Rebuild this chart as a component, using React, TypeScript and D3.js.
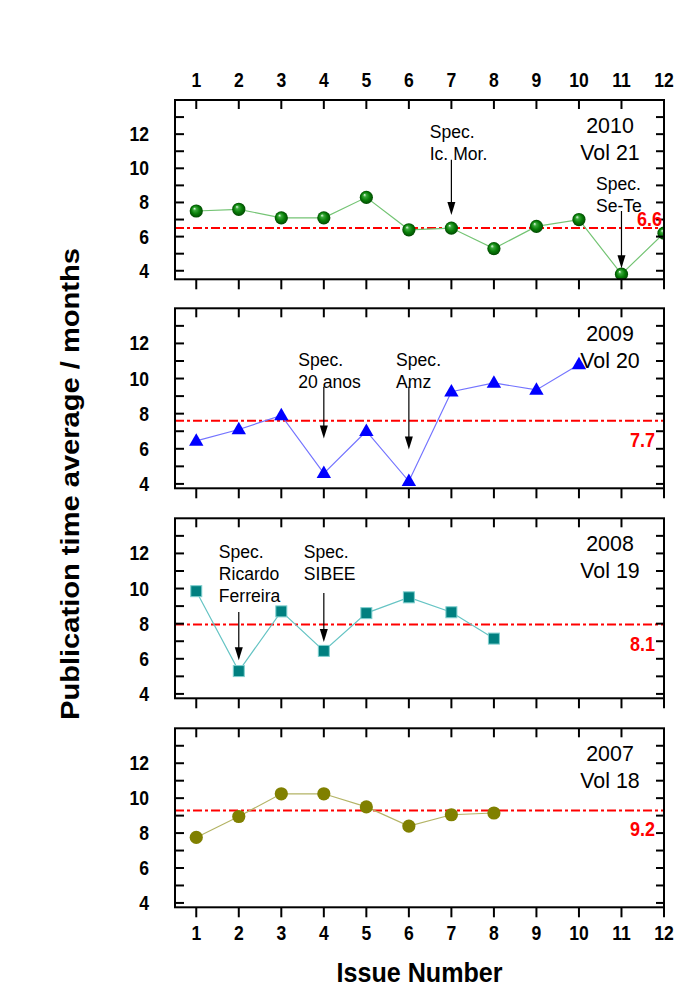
import React from "react";
import * as d3 from "d3";

// ---- data ----
const issues = [1, 2, 3, 4, 5, 6, 7, 8, 9, 10, 11, 12];
const vol21_2010 = [7.5, 7.6, 7.1, 7.1, 8.3, 6.4, 6.5, 5.3, 6.6, 7.0, 3.8, 6.2];
const vol20_2009 = [6.45, 7.1, 7.9, 4.6, 7.0, 4.15, 9.25, 9.75, 9.35, 10.8];
const vol19_2008 = [9.85, 5.3, 8.7, 6.45, 8.6, 9.5, 8.65, 7.15];
const vol18_2007 = [7.75, 8.95, 10.25, 10.25, 9.5, 8.4, 9.05, 9.15];
const meanLineValues = [6.5, 7.6, 7.95, 9.3];
const meanLabels = ["6.6", "7.7", "8.1", "9.2"];
const yearLabels = ["2010", "2009", "2008", "2007"];
const volLabels = ["Vol 21", "Vol 20", "Vol 19", "Vol 18"];
const yTickLabels = [4, 6, 8, 10, 12];
const yMinorTicks = [4, 5, 6, 7, 8, 9, 10, 11, 12, 13];

const ann2010 = [
  { issue: 7, lines: ["Spec.", "Ic. Mor."], textX: 6.49, textY: 12.13, from: 10.5, to: 7.26 },
  { issue: 11, lines: ["Spec.", "Se-Te"], textX: 10.4, textY: 9.11, from: 7.5, to: 4.14 },
];
const ann2009 = [
  { issue: 4, lines: ["Spec.", "20 anos"], textX: 3.4, textY: 11.09, from: 9.53, to: 6.59 },
  { issue: 6, lines: ["Spec.", "Amz"], textX: 5.7, textY: 11.09, from: 9.53, to: 5.96 },
];
const ann2008 = [
  { issue: 2, lines: ["Spec.", "Ricardo", "Ferreira"], textX: 1.53, textY: 12.09, from: 8.67, to: 5.92 },
  { issue: 4, lines: ["Spec.", "SIBEE"], textX: 3.53, textY: 12.09, from: 9.75, to: 6.96 },
];
const ann2007: typeof ann2010 = [];

const FONT = "'Liberation Sans', Arial, sans-serif";
const LEFT = 175;
const RIGHT = 664;

const panels = [
  { values: vol21_2010, ann: ann2010, top: 100, bottom: 279.3, domain: [3.5, 14], kind: "sphere", line: "#74c474" },
  { values: vol20_2009, ann: ann2009, top: 308.3, bottom: 488.3, domain: [3.75, 14], kind: "triangle", line: "#7474ff" },
  { values: vol19_2008, ann: ann2008, top: 518.3, bottom: 698.3, domain: [3.75, 14], kind: "square", line: "#66c4c4" },
  { values: vol18_2007, ann: ann2007, top: 728.3, bottom: 907.3, domain: [3.75, 14], kind: "circle", line: "#b4b466" },
];

const x = d3.scaleLinear().domain([0.5, 12]).range([LEFT, RIGHT]);

// condensed text helper (the original figure is slightly stretched vertically)
function T({ x: tx, y: ty, sx = 0.9, anchor = "start", size, bold = false, fill = "#000", children }: any) {
  return (
    <text
      transform={`translate(${tx},${ty}) scale(${sx},1)`}
      textAnchor={anchor}
      fontFamily={FONT}
      fontWeight={bold ? "bold" : "normal"}
      fontSize={size}
      fill={fill}
    >
      {children}
    </text>
  );
}

function Marker({ kind, cx, cy }: { kind: string; cx: number; cy: number }) {
  if (kind === "sphere") {
    return <circle cx={cx} cy={cy} r={6.6} fill="url(#sphereGrad)" />;
  }
  if (kind === "triangle") {
    const h = 12.5;
    const w = 7.2;
    const p = `M${cx},${cy - h * 0.62} L${cx + w},${cy + h * 0.38} L${cx - w},${cy + h * 0.38} Z`;
    return <path d={p} fill="#0000ff" />;
  }
  if (kind === "square") {
    const s = 11;
    return <rect x={cx - s / 2} y={cy - s / 2} width={s} height={s} fill="#008080" stroke="#7fcfcf" strokeWidth={1} />;
  }
  return <circle cx={cx} cy={cy} r={6.6} fill="#808000" />;
}

function Panel({ p, i }: { p: any; i: number }) {
  const y = d3.scaleLinear().domain(p.domain).range([p.bottom, p.top]);
  const pts = p.values.map((v: number, k: number) => [x(issues[k]), y(v)] as [number, number]);
  const lineGen = d3.line();
  const clipId = `clip${i}`;
  const meanY = y(meanLineValues[i]);
  const isFirst = i === 0;
  const isLast = i === panels.length - 1;
  return (
    <g>
      <defs>
        <clipPath id={clipId}>
          <rect x={LEFT} y={p.top} width={RIGHT - LEFT} height={p.bottom - p.top} />
        </clipPath>
      </defs>
      <line x1={LEFT} x2={RIGHT} y1={meanY} y2={meanY} stroke="#ff0000" strokeWidth={2} strokeDasharray="9,3,3,3" />
      <g clipPath={`url(#${clipId})`}>
        <path d={lineGen(pts) || ""} fill="none" stroke={p.line} strokeWidth={1.2} />
        {pts.map((pt: [number, number], k: number) => (
          <Marker key={k} kind={p.kind} cx={pt[0]} cy={pt[1]} />
        ))}
      </g>
      <rect x={LEFT} y={p.top} width={RIGHT - LEFT} height={p.bottom - p.top} fill="none" stroke="#000" strokeWidth={2} />
      {issues.map((t) => (
        <g key={"xt" + t}>
          <line x1={x(t)} x2={x(t)} y1={p.top} y2={p.top + 9} stroke="#000" strokeWidth={2} />
          <line x1={x(t)} x2={x(t)} y1={p.bottom} y2={p.bottom + 10} stroke="#000" strokeWidth={2} />
        </g>
      ))}
      {yMinorTicks.map((t) => (
        <g key={"yt" + t}>
          <line x1={LEFT} x2={LEFT + 9} y1={y(t)} y2={y(t)} stroke="#000" strokeWidth={2} />
          <line x1={RIGHT - 8} x2={RIGHT} y1={y(t)} y2={y(t)} stroke="#000" strokeWidth={2} />
        </g>
      ))}
      {yTickLabels.map((t) => (
        <T key={"yl" + t} x={149} y={y(t) + 7} anchor="end" size={19.5} bold>
          {t}
        </T>
      ))}
      {isFirst &&
        issues.map((t) => (
          <T key={"xlt" + t} x={x(t)} y={87} anchor="middle" size={19.5} bold>
            {t}
          </T>
        ))}
      {isLast &&
        issues.map((t) => (
          <T key={"xlb" + t} x={x(t)} y={940} anchor="middle" size={19.5} bold>
            {t}
          </T>
        ))}
      <T x={610} y={p.top + 25 + 8} anchor="middle" size={23} sx={0.93}>
        {yearLabels[i]}
      </T>
      <T x={610} y={p.top + 52 + 8} anchor="middle" size={23} sx={0.93}>
        {volLabels[i]}
      </T>
      <T
        x={isFirst ? 662 : 655}
        y={isFirst ? meanY - 9 + 7 : meanY + 19 + 7}
        anchor="end"
        size={20}
        bold
        fill="#ff0000"
      >
        {meanLabels[i]}
      </T>
      {p.ann.map((a: any, k: number) => {
        const ax = x(a.issue);
        const y0 = y(a.from);
        const y1 = y(a.to);
        const headLen = 13;
        return (
          <g key={"ann" + k}>
            {a.lines.map((s: string, j: number) => (
              <T key={j} x={x(a.textX)} y={y(a.textY) + j * 22 + 6.5} size={18.5} sx={0.95}>
                {s}
              </T>
            ))}
            <line x1={ax} x2={ax} y1={y0} y2={y1 - headLen + 1} stroke="#000" strokeWidth={1.2} />
            <path d={`M${ax},${y1} L${ax - 4},${y1 - headLen} L${ax + 4},${y1 - headLen} Z`} fill="#000" />
          </g>
        );
      })}
    </g>
  );
}

export default function App() {
  return (
    <svg width={700} height={1007} style={{ position: "absolute", left: 0, top: 0, background: "#fff" }}>
      <defs>
        <radialGradient id="sphereGrad" cx="0.5" cy="0.5" r="0.5" fx="0.35" fy="0.3">
          <stop offset="0" stopColor="#f0fff0" />
          <stop offset="0.25" stopColor="#3aa83a" />
          <stop offset="0.6" stopColor="#0a800a" />
          <stop offset="1" stopColor="#004a00" />
        </radialGradient>
      </defs>
      <rect x={0} y={0} width={700} height={1007} fill="#fff" />
      {panels.map((p, i) => (
        <Panel key={i} p={p} i={i} />
      ))}
      <T x={419.5} y={982} anchor="middle" size={27} sx={0.93} bold>
        Issue Number
      </T>
      <text
        transform={`translate(79,484) rotate(-90)`}
        textAnchor="middle"
        fontFamily={FONT}
        fontWeight="bold"
        fontSize={26}
        textLength={472}
        lengthAdjust="spacingAndGlyphs"
      >
        Publication time average / months
      </text>
    </svg>
  );
}
